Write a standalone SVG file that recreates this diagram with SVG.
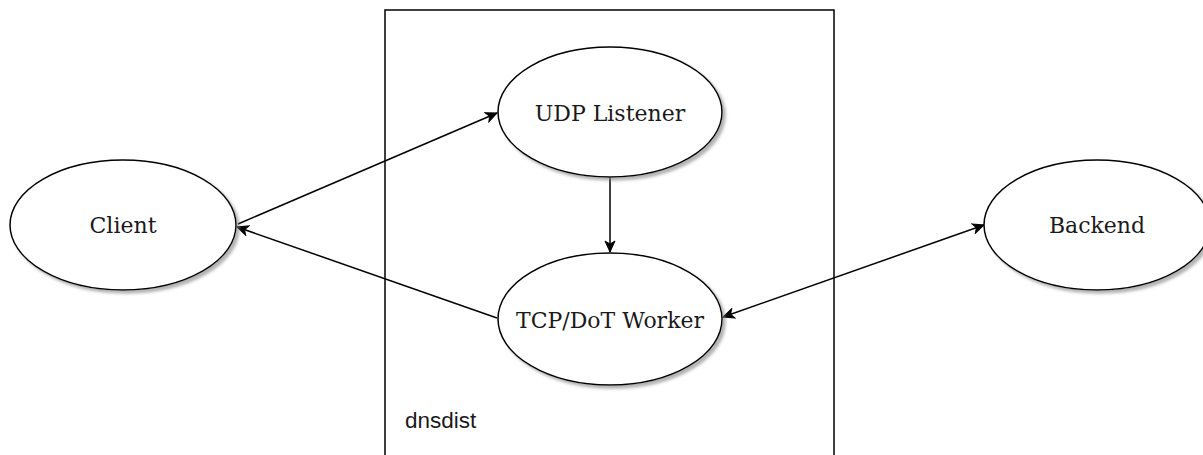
<svg xmlns="http://www.w3.org/2000/svg" width="1203" height="455" viewBox="0 0 1203 455">
  <style>
    .node ellipse { fill: #ffffff; stroke: #000000; stroke-width: 1.5; filter: url(#shadow); }
    .label { font-family: "DejaVu Serif", serif; font-size: 22px; fill: #1a1a1a; text-anchor: middle; }
    .edge { fill: none; stroke: #000000; stroke-width: 1.5; }
    .container { fill: #ffffff; stroke: #000000; stroke-width: 1.5; }
    .clabel { font-family: "Liberation Sans", Arial, sans-serif; font-size: 22.5px; fill: #1a1a1a; }
  </style>
  <defs>
    <filter id="shadow" x="-10%" y="-10%" width="130%" height="130%">
      <feDropShadow dx="3" dy="3" stdDeviation="1.5" flood-color="#808080" flood-opacity="0.6"/>
    </filter>
    <marker id="arrow" viewBox="-12 -6 13 12" refX="0" refY="0" markerWidth="13" markerHeight="12" markerUnits="userSpaceOnUse" orient="auto-start-reverse">
      <path d="M-11,-5 L0,0 L-11,5 L-8,0 Z" fill="#000000" stroke="#000000" stroke-width="1"/>
    </marker>
  </defs>
  <rect width="1203" height="455" fill="#ffffff"/>

  <g id="dnsdist">
    <rect class="container" x="385" y="10" width="449" height="470"/>
    <text class="clabel" x="405" y="428">dnsdist</text>
  </g>

  <g id="connectors">
    <line class="edge" x1="238" y1="224" x2="497" y2="113" marker-end="url(#arrow)"/>
    <line class="edge" x1="497" y1="318" x2="237" y2="227" marker-end="url(#arrow)"/>
    <line class="edge" x1="610" y1="177" x2="610" y2="252" marker-end="url(#arrow)"/>
    <line class="edge" x1="723" y1="317" x2="984" y2="225" marker-start="url(#arrow)" marker-end="url(#arrow)"/>
  </g>

  <g id="client" class="node">
    <ellipse cx="123" cy="225" rx="113" ry="65"/>
    <text class="label" x="123" y="233">Client</text>
  </g>
  <g id="udp-listener" class="node">
    <ellipse cx="610" cy="112" rx="112" ry="65"/>
    <text class="label" x="610" y="121">UDP Listener</text>
  </g>
  <g id="tcp-dot-worker" class="node">
    <ellipse cx="610" cy="319" rx="112" ry="66"/>
    <text class="label" x="610" y="328">TCP/DoT Worker</text>
  </g>
  <g id="backend" class="node">
    <ellipse cx="1097" cy="225" rx="113" ry="65"/>
    <text class="label" x="1097" y="233">Backend</text>
  </g>
</svg>
